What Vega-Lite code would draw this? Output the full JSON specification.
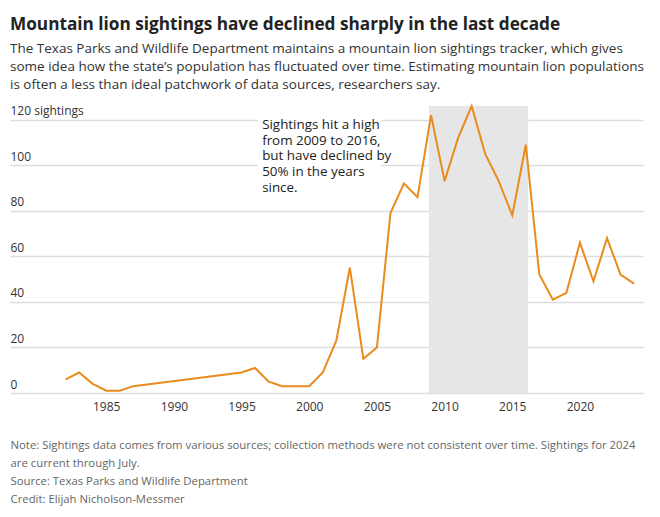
{
  "$schema": "https://vega.github.io/schema/vega-lite/v6.json",
  "width": 633,
  "height": 287,
  "autosize": {"type": "pad"},
  "padding": {"left": 10, "top": 16, "right": 10, "bottom": 10},
  "background": "white",
  "title": {
    "text": "Mountain lion sightings have declined sharply in the last decade",
    "subtitle": [
      "The Texas Parks and Wildlife Department maintains a mountain lion sightings tracker, which gives",
      "some idea how the state’s population has fluctuated over time. Estimating mountain lion populations",
      "is often a less than ideal patchwork of data sources, researchers say."
    ],
    "anchor": "start",
    "font": "Open Sans",
    "fontSize": 17.2,
    "fontWeight": "bold",
    "color": "#222222",
    "subtitleFont": "Open Sans",
    "subtitleFontSize": 13.5,
    "subtitleColor": "#333333",
    "subtitleLineHeight": 18,
    "subtitlePadding": 8,
    "offset": 11
  },
  "config": {
    "view": {"stroke": null},
    "font": "Open Sans"
  },
  "datasets": {
    "sightings": [
      {"year": 1982, "sightings": 6},
      {"year": 1983, "sightings": 9},
      {"year": 1984, "sightings": 4},
      {"year": 1985, "sightings": 1},
      {"year": 1986, "sightings": 1},
      {"year": 1987, "sightings": 3},
      {"year": 1995, "sightings": 9},
      {"year": 1996, "sightings": 11},
      {"year": 1997, "sightings": 5},
      {"year": 1998, "sightings": 3},
      {"year": 1999, "sightings": 3},
      {"year": 2000, "sightings": 3},
      {"year": 2001, "sightings": 9},
      {"year": 2002, "sightings": 23},
      {"year": 2003, "sightings": 55},
      {"year": 2004, "sightings": 15},
      {"year": 2005, "sightings": 20},
      {"year": 2006, "sightings": 79},
      {"year": 2007, "sightings": 92},
      {"year": 2008, "sightings": 86},
      {"year": 2009, "sightings": 122},
      {"year": 2010, "sightings": 93},
      {"year": 2011, "sightings": 112},
      {"year": 2012, "sightings": 126},
      {"year": 2013, "sightings": 105},
      {"year": 2014, "sightings": 93},
      {"year": 2015, "sightings": 78},
      {"year": 2016, "sightings": 109},
      {"year": 2017, "sightings": 52},
      {"year": 2018, "sightings": 41},
      {"year": 2019, "sightings": 44},
      {"year": 2020, "sightings": 66},
      {"year": 2021, "sightings": 49},
      {"year": 2022, "sightings": 68},
      {"year": 2023, "sightings": 52},
      {"year": 2024, "sightings": 48}
    ],
    "band": [
      {"start": 2008.85, "end": 2016.17, "low": 0, "high": 126}
    ],
    "noteBox": [
      {"start": 1996.2, "end": 2005.3, "low": 89, "high": 124}
    ],
    "note": [
      {"year": 1996.52, "sightings": 120.6, "label": "Sightings hit a high\nfrom 2009 to 2016,\nbut have declined by\n50% in the years\nsince."}
    ]
  },
  "encoding": {
    "x": {
      "field": "year",
      "type": "quantitative",
      "scale": {"domain": [1977.89, 2024.66], "nice": false, "zero": false},
      "axis": {
        "values": [1985, 1990, 1995, 2000, 2005, 2010, 2015, 2020],
        "format": "d",
        "grid": false,
        "ticks": false,
        "tickSize": 0,
        "domain": false,
        "labelFont": "Open Sans",
        "labelFontSize": 12,
        "labelColor": "#333333",
        "labelPadding": 8,
        "title": [
          "Note: Sightings data comes from various sources; collection methods were not consistent over time. Sightings for 2024",
          "are current through July.",
          "Source: Texas Parks and Wildlife Department",
          "Credit: Elijah Nicholson-Messmer"
        ],
        "titleFont": "Open Sans",
        "titleFontSize": 11.35,
        "titleFontWeight": "normal",
        "titleColor": "#666666",
        "titleAnchor": "start",
        "titleAlign": "left",
        "titleBaseline": "top",
        "titleLineHeight": 18,
        "titlePadding": 27
      }
    },
    "y": {
      "field": "sightings",
      "type": "quantitative",
      "scale": {"domain": [0, 126], "nice": false},
      "axis": {
        "values": [0, 20, 40, 60, 80, 100, 120],
        "labelExpr": "datum.value == 120 ? '120 sightings' : datum.label",
        "grid": true,
        "gridColor": "#dddddd",
        "gridWidth": 1.5,
        "ticks": false,
        "tickSize": 0,
        "domain": false,
        "labelAlign": "left",
        "labelBaseline": "alphabetic",
        "labelOffset": -5,
        "labelPadding": 0,
        "labelFont": "Open Sans",
        "labelFontSize": 12,
        "labelColor": "#333333",
        "title": null
      }
    }
  },
  "layer": [
    {
      "data": {"name": "band"},
      "mark": {"type": "rect", "color": "#e6e6e6"},
      "encoding": {
        "x": {"field": "start", "type": "quantitative"},
        "x2": {"field": "end"},
        "y": {"field": "low", "type": "quantitative"},
        "y2": {"field": "high"}
      }
    },
    {
      "data": {"name": "noteBox"},
      "mark": {"type": "rect", "color": "white"},
      "encoding": {
        "x": {"field": "start", "type": "quantitative"},
        "x2": {"field": "end"},
        "y": {"field": "low", "type": "quantitative"},
        "y2": {"field": "high"}
      }
    },
    {
      "data": {"name": "sightings"},
      "mark": {"type": "line", "color": "#e98b1d", "strokeWidth": 2, "strokeJoin": "miter"}
    },
    {
      "data": {"name": "note"},
      "mark": {
        "type": "text",
        "align": "left",
        "baseline": "top",
        "font": "Open Sans",
        "fontSize": 13.4,
        "lineHeight": 15.6,
        "lineBreak": "\n",
        "color": "#222222"
      },
      "encoding": {
        "text": {"field": "label"}
      }
    }
  ]
}
